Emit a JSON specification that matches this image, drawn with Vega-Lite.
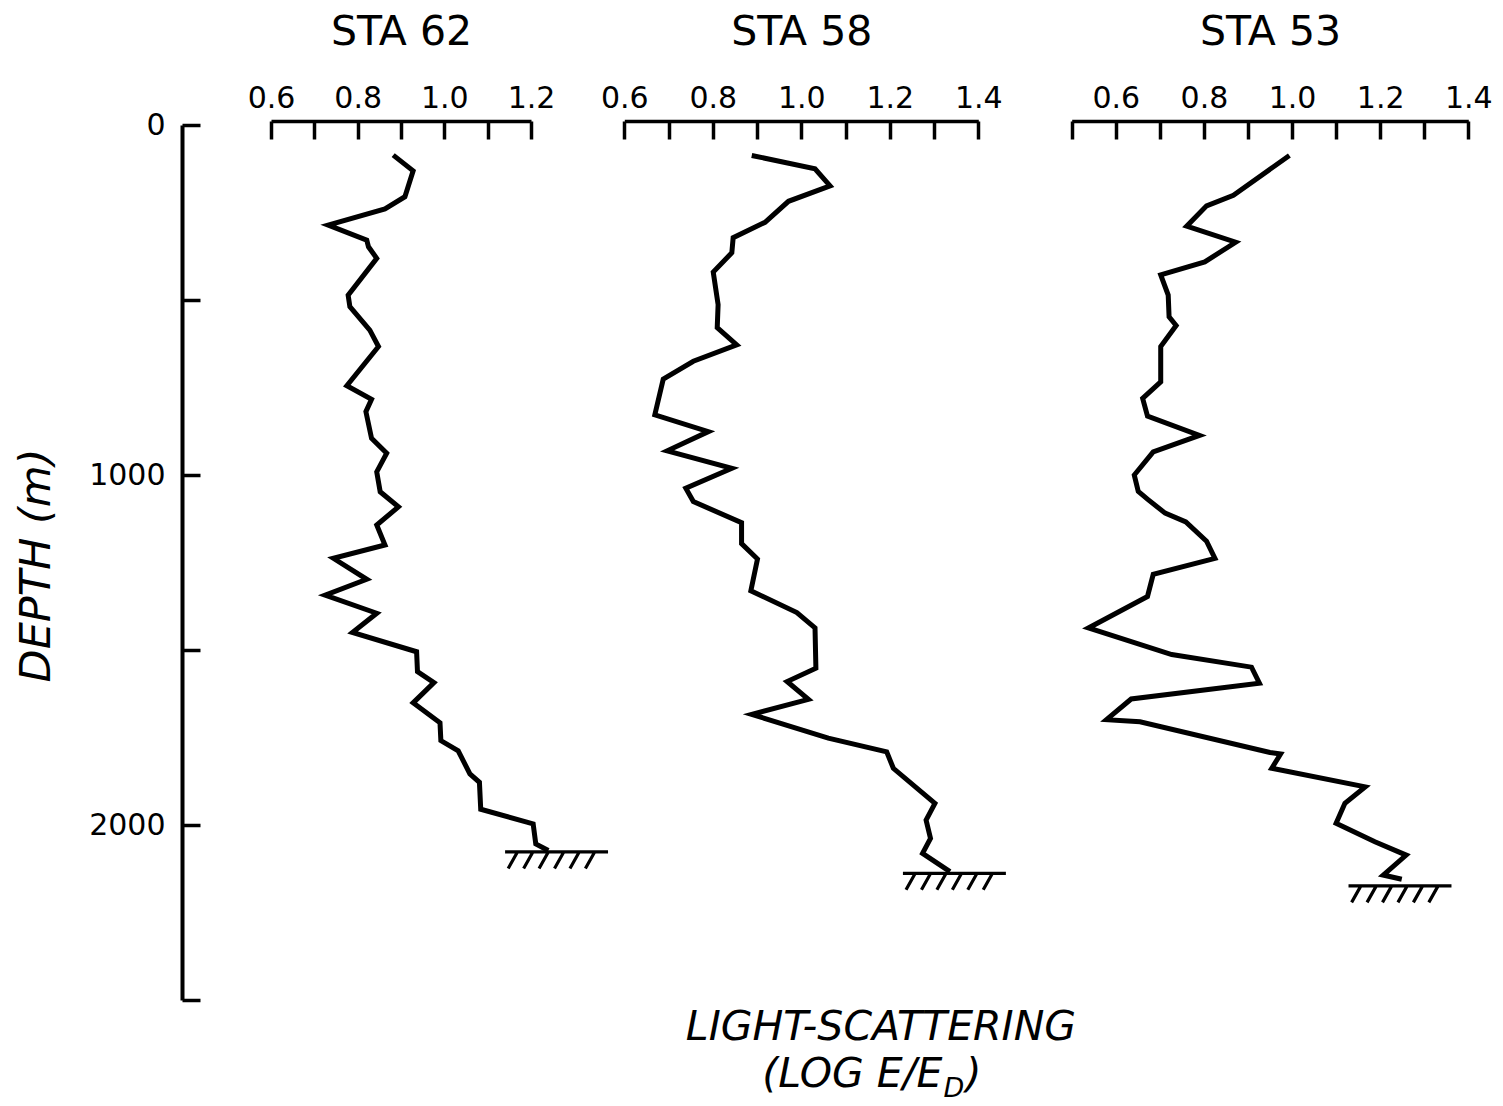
{
  "$schema": "https://vega.github.io/schema/vega-lite/v6.json",
  "width": 1287,
  "height": 875,
  "autosize": {"type": "none"},
  "padding": {"left": 182, "top": 125, "right": 34, "bottom": 106},
  "background": "white",
  "config": {
    "view": {"stroke": null},
    "axis": {
      "grid": false,
      "domainColor": "black",
      "domainWidth": 3.5,
      "tickColor": "black",
      "tickWidth": 3.5,
      "labelColor": "black",
      "labelFont": "DejaVu Sans",
      "labelFontSize": 30,
      "labelFlush": false,
      "labelOverlap": false,
      "titleColor": "black",
      "titleFont": "DejaVu Sans",
      "titleFontWeight": "normal"
    }
  },
  "datasets": {
    "sta62": [
      {"depth": 86, "scatter": 0.882}, {"depth": 131, "scatter": 0.928}, {"depth": 205, "scatter": 0.909},
      {"depth": 240, "scatter": 0.863}, {"depth": 286, "scatter": 0.732}, {"depth": 329, "scatter": 0.821},
      {"depth": 348, "scatter": 0.825}, {"depth": 381, "scatter": 0.844}, {"depth": 486, "scatter": 0.778},
      {"depth": 519, "scatter": 0.782}, {"depth": 586, "scatter": 0.828}, {"depth": 633, "scatter": 0.848},
      {"depth": 745, "scatter": 0.775}, {"depth": 784, "scatter": 0.832}, {"depth": 819, "scatter": 0.819},
      {"depth": 895, "scatter": 0.832}, {"depth": 938, "scatter": 0.867}, {"depth": 991, "scatter": 0.844},
      {"depth": 1048, "scatter": 0.852}, {"depth": 1091, "scatter": 0.894}, {"depth": 1143, "scatter": 0.844},
      {"depth": 1200, "scatter": 0.863}, {"depth": 1238, "scatter": 0.744}, {"depth": 1298, "scatter": 0.821},
      {"depth": 1343, "scatter": 0.725}, {"depth": 1395, "scatter": 0.844}, {"depth": 1450, "scatter": 0.788},
      {"depth": 1505, "scatter": 0.936}, {"depth": 1562, "scatter": 0.938}, {"depth": 1593, "scatter": 0.976},
      {"depth": 1651, "scatter": 0.928}, {"depth": 1708, "scatter": 0.99}, {"depth": 1759, "scatter": 0.992},
      {"depth": 1788, "scatter": 1.032}, {"depth": 1854, "scatter": 1.059}, {"depth": 1878, "scatter": 1.081},
      {"depth": 1955, "scatter": 1.084}, {"depth": 1997, "scatter": 1.205}, {"depth": 2054, "scatter": 1.211},
      {"depth": 2073, "scatter": 1.24}
    ],
    "sta58": [
      {"depth": 87, "scatter": 0.888}, {"depth": 125, "scatter": 1.031}, {"depth": 174, "scatter": 1.065},
      {"depth": 218, "scatter": 0.971}, {"depth": 278, "scatter": 0.918}, {"depth": 322, "scatter": 0.846},
      {"depth": 365, "scatter": 0.843}, {"depth": 420, "scatter": 0.801}, {"depth": 513, "scatter": 0.812},
      {"depth": 579, "scatter": 0.81}, {"depth": 628, "scatter": 0.854}, {"depth": 675, "scatter": 0.756},
      {"depth": 726, "scatter": 0.688}, {"depth": 828, "scatter": 0.669}, {"depth": 876, "scatter": 0.79},
      {"depth": 931, "scatter": 0.697}, {"depth": 981, "scatter": 0.843}, {"depth": 1038, "scatter": 0.739},
      {"depth": 1076, "scatter": 0.756}, {"depth": 1136, "scatter": 0.865}, {"depth": 1196, "scatter": 0.865},
      {"depth": 1240, "scatter": 0.901}, {"depth": 1331, "scatter": 0.886}, {"depth": 1393, "scatter": 0.99},
      {"depth": 1437, "scatter": 1.031}, {"depth": 1552, "scatter": 1.033}, {"depth": 1590, "scatter": 0.968},
      {"depth": 1641, "scatter": 1.016}, {"depth": 1684, "scatter": 0.888}, {"depth": 1752, "scatter": 1.061},
      {"depth": 1791, "scatter": 1.193}, {"depth": 1838, "scatter": 1.208}, {"depth": 1938, "scatter": 1.302},
      {"depth": 1986, "scatter": 1.282}, {"depth": 2038, "scatter": 1.292}, {"depth": 2081, "scatter": 1.274},
      {"depth": 2133, "scatter": 1.336}
    ],
    "sta53": [
      {"depth": 87, "scatter": 0.994}, {"depth": 201, "scatter": 0.867}, {"depth": 231, "scatter": 0.806},
      {"depth": 289, "scatter": 0.761}, {"depth": 335, "scatter": 0.872}, {"depth": 391, "scatter": 0.802},
      {"depth": 428, "scatter": 0.702}, {"depth": 486, "scatter": 0.719}, {"depth": 548, "scatter": 0.721},
      {"depth": 573, "scatter": 0.737}, {"depth": 633, "scatter": 0.702}, {"depth": 734, "scatter": 0.702},
      {"depth": 781, "scatter": 0.661}, {"depth": 832, "scatter": 0.672}, {"depth": 887, "scatter": 0.79},
      {"depth": 934, "scatter": 0.685}, {"depth": 1000, "scatter": 0.642}, {"depth": 1047, "scatter": 0.651},
      {"depth": 1071, "scatter": 0.674}, {"depth": 1109, "scatter": 0.712}, {"depth": 1134, "scatter": 0.759},
      {"depth": 1189, "scatter": 0.806}, {"depth": 1238, "scatter": 0.825}, {"depth": 1284, "scatter": 0.685},
      {"depth": 1347, "scatter": 0.672}, {"depth": 1437, "scatter": 0.538}, {"depth": 1513, "scatter": 0.727},
      {"depth": 1549, "scatter": 0.908}, {"depth": 1595, "scatter": 0.926}, {"depth": 1640, "scatter": 0.635},
      {"depth": 1699, "scatter": 0.579}, {"depth": 1705, "scatter": 0.655}, {"depth": 1793, "scatter": 0.95},
      {"depth": 1797, "scatter": 0.974}, {"depth": 1838, "scatter": 0.954}, {"depth": 1891, "scatter": 1.166},
      {"depth": 1938, "scatter": 1.12}, {"depth": 1995, "scatter": 1.1}, {"depth": 2048, "scatter": 1.188},
      {"depth": 2086, "scatter": 1.259}, {"depth": 2143, "scatter": 1.207}, {"depth": 2155, "scatter": 1.249}
    ],
    "seabed": [
      {"station": "STA 62", "depth": 2077, "scatter": 1.259},
      {"station": "STA 58", "depth": 2138, "scatter": 1.346},
      {"station": "STA 53", "depth": 2174, "scatter": 1.245}
    ]
  },
  "layer": [
    {
      "layer": [
        {
          "data": {"name": "sta62"},
          "mark": {"type": "line", "color": "black", "strokeWidth": 5},
          "encoding": {
            "x": {
              "field": "scatter", "type": "quantitative",
              "scale": {"domain": [0.6, 1.2], "range": [89, 349], "nice": false, "zero": false},
              "axis": {
                "orient": "top", "offset": 4, "title": "STA 62", "titleFontSize": 41,
                "titleY": -77, "titleBaseline": "alphabetic",
                "values": [0.6, 0.7, 0.8, 0.9, 1.0, 1.1, 1.2], "format": ".1f",
                "labelExpr": "round(datum.value * 10) % 2 ? '' : datum.label",
                "tickSize": -18, "labelPadding": 26
              }
            },
            "y": {
              "field": "depth", "type": "quantitative",
              "scale": {"domain": [0, 2500], "reverse": true, "nice": false, "zero": false},
              "axis": {
                "orient": "left", "values": [0, 500, 1000, 1500, 2000, 2500], "format": "d",
                "labelExpr": "datum.value % 1000 == 0 ? datum.label : ''",
                "tickSize": -18, "labelPadding": 35, "domainWidth": 4,
                "title": "DEPTH (m)", "titleFontSize": 43, "titleFontStyle": "italic",
                "titleAngle": -90, "titleX": -146, "titleY": 440,
                "titleAlign": "center", "titleBaseline": "middle"
              }
            },
            "order": {"field": "depth", "type": "quantitative"}
          }
        },
        {
          "data": {"name": "seabed"},
          "transform": [{"filter": "datum.station == 'STA 62'"}],
          "mark": {
            "type": "point", "filled": false, "color": "black", "opacity": 1, "strokeWidth": 3.2, "size": 10600,
            "shape": "M-1,0H1M-0.76,0L-0.94,0.32M-0.46,0L-0.64,0.32M-0.16,0L-0.34,0.32M0.14,0L-0.04,0.32M0.44,0L0.26,0.32M0.74,0L0.56,0.32"
          },
          "encoding": {
            "x": {"field": "scatter", "type": "quantitative"},
            "y": {"field": "depth", "type": "quantitative", "scale": {"domain": [0, 2500], "reverse": true, "nice": false, "zero": false}}
          }
        }
      ]
    },
    {
      "layer": [
        {
          "data": {"name": "sta58"},
          "mark": {"type": "line", "color": "black", "strokeWidth": 5},
          "encoding": {
            "x": {
              "field": "scatter", "type": "quantitative",
              "scale": {"domain": [0.6, 1.4], "range": [442.3, 796.3], "nice": false, "zero": false},
              "axis": {
                "orient": "top", "offset": 4, "title": "STA 58", "titleFontSize": 41,
                "titleY": -77, "titleBaseline": "alphabetic",
                "values": [0.6, 0.7, 0.8, 0.9, 1.0, 1.1, 1.2, 1.3, 1.4], "format": ".1f",
                "labelExpr": "round(datum.value * 10) % 2 ? '' : datum.label",
                "tickSize": -18, "labelPadding": 26
              }
            },
            "y": {"field": "depth", "type": "quantitative", "scale": {"domain": [0, 2500], "reverse": true, "nice": false, "zero": false}},
            "order": {"field": "depth", "type": "quantitative"}
          }
        },
        {
          "data": {"name": "seabed"},
          "transform": [{"filter": "datum.station == 'STA 58'"}],
          "mark": {
            "type": "point", "filled": false, "color": "black", "opacity": 1, "strokeWidth": 3.2, "size": 10600,
            "shape": "M-1,0H1M-0.76,0L-0.94,0.32M-0.46,0L-0.64,0.32M-0.16,0L-0.34,0.32M0.14,0L-0.04,0.32M0.44,0L0.26,0.32M0.74,0L0.56,0.32"
          },
          "encoding": {
            "x": {"field": "scatter", "type": "quantitative"},
            "y": {"field": "depth", "type": "quantitative", "scale": {"domain": [0, 2500], "reverse": true, "nice": false, "zero": false}}
          }
        },
        {
          "data": {"values": [{"t": "LIGHT-SCATTERING"}]},
          "mark": {"type": "text", "font": "DejaVu Sans", "fontSize": 41, "fontStyle": "italic", "align": "center", "baseline": "alphabetic", "color": "black"},
          "encoding": {
            "x": {"datum": 1.18, "type": "quantitative"},
            "y": {"datum": 2614, "type": "quantitative", "scale": {"domain": [0, 2500], "reverse": true, "nice": false, "zero": false}},
            "text": {"field": "t"}
          }
        },
        {
          "data": {"values": [{"t": "(LOG E/E"}]},
          "mark": {"type": "text", "font": "DejaVu Sans", "fontSize": 41, "fontStyle": "italic", "align": "right", "baseline": "alphabetic", "color": "black"},
          "encoding": {
            "x": {"datum": 1.3191, "type": "quantitative"},
            "y": {"datum": 2749, "type": "quantitative", "scale": {"domain": [0, 2500], "reverse": true, "nice": false, "zero": false}},
            "text": {"field": "t"}
          }
        },
        {
          "data": {"values": [{"t": "D"}]},
          "mark": {"type": "text", "font": "DejaVu Sans", "fontSize": 27, "fontStyle": "italic", "align": "left", "baseline": "alphabetic", "color": "black", "dx": 1, "dy": 10},
          "encoding": {
            "x": {"datum": 1.3191, "type": "quantitative"},
            "y": {"datum": 2749, "type": "quantitative", "scale": {"domain": [0, 2500], "reverse": true, "nice": false, "zero": false}},
            "text": {"field": "t"}
          }
        },
        {
          "data": {"values": [{"t": ")"}]},
          "mark": {"type": "text", "font": "DejaVu Sans", "fontSize": 41, "fontStyle": "italic", "align": "left", "baseline": "alphabetic", "color": "black", "dx": 23},
          "encoding": {
            "x": {"datum": 1.3191, "type": "quantitative"},
            "y": {"datum": 2749, "type": "quantitative", "scale": {"domain": [0, 2500], "reverse": true, "nice": false, "zero": false}},
            "text": {"field": "t"}
          }
        }
      ]
    },
    {
      "layer": [
        {
          "data": {"name": "sta53"},
          "mark": {"type": "line", "color": "black", "strokeWidth": 5},
          "encoding": {
            "x": {
              "field": "scatter", "type": "quantitative",
              "scale": {"domain": [0.5, 1.4], "range": [889.7, 1286.3], "nice": false, "zero": false},
              "axis": {
                "orient": "top", "offset": 4, "title": "STA 53", "titleFontSize": 41,
                "titleY": -77, "titleBaseline": "alphabetic",
                "values": [0.5, 0.6, 0.7, 0.8, 0.9, 1.0, 1.1, 1.2, 1.3, 1.4], "format": ".1f",
                "labelExpr": "round(datum.value * 10) % 2 ? '' : datum.label",
                "tickSize": -18, "labelPadding": 26
              }
            },
            "y": {"field": "depth", "type": "quantitative", "scale": {"domain": [0, 2500], "reverse": true, "nice": false, "zero": false}},
            "order": {"field": "depth", "type": "quantitative"}
          }
        },
        {
          "data": {"name": "seabed"},
          "transform": [{"filter": "datum.station == 'STA 53'"}],
          "mark": {
            "type": "point", "filled": false, "color": "black", "opacity": 1, "strokeWidth": 3.2, "size": 10600,
            "shape": "M-1,0H1M-0.76,0L-0.94,0.32M-0.46,0L-0.64,0.32M-0.16,0L-0.34,0.32M0.14,0L-0.04,0.32M0.44,0L0.26,0.32M0.74,0L0.56,0.32"
          },
          "encoding": {
            "x": {"field": "scatter", "type": "quantitative"},
            "y": {"field": "depth", "type": "quantitative", "scale": {"domain": [0, 2500], "reverse": true, "nice": false, "zero": false}}
          }
        }
      ]
    }
  ],
  "resolve": {"scale": {"x": "independent"}, "axis": {"x": "independent"}}
}
